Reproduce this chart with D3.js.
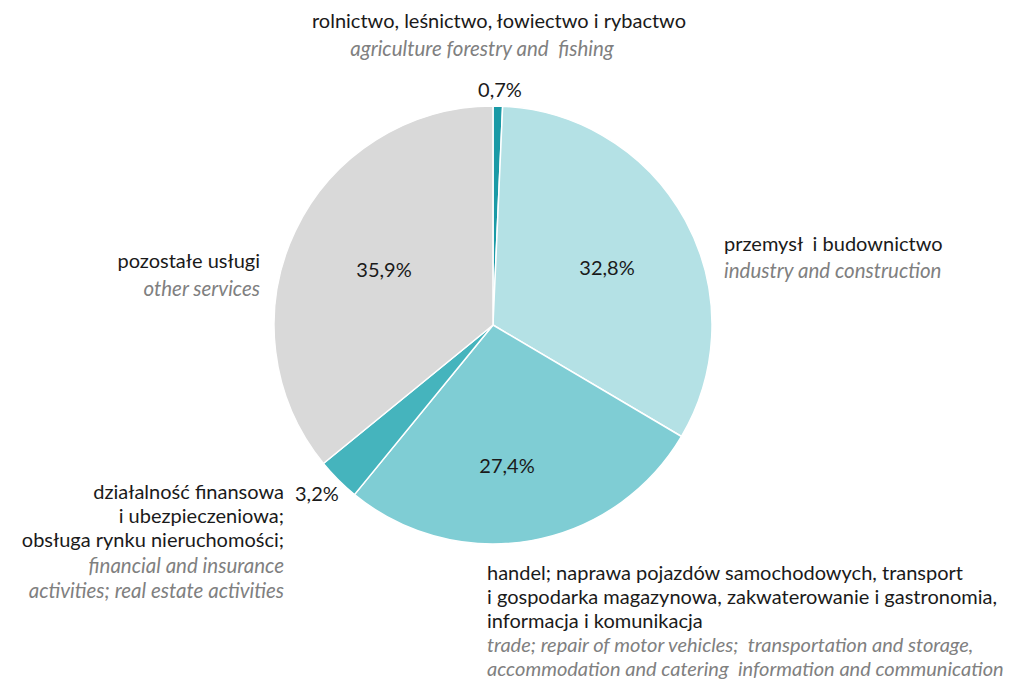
<!DOCTYPE html>
<html>
<head>
<meta charset="utf-8">
<script src="https://cdn.jsdelivr.net/npm/d3@7"></script>
<style>
  html, body { margin: 0; padding: 0; background: #ffffff; }
  svg text { font-family: Lato, "Open Sans", sans-serif; white-space: pre; }
</style>
</head>
<body>
<svg id="chart" width="1030" height="680"></svg>
<script>
// Structure of gross value added by sector (%)
const sectorKeys = ["agri", "industry", "trade", "finance", "other"];
const sectorValues = [0.7, 32.8, 27.4, 3.2, 35.9];
const valueLabels = ["0,7%", "32,8%", "27,4%", "3,2%", "35,9%"];
const sectorColors = ["#1a9aa6", "#b4e1e5", "#7fcdd4", "#45b4bd", "#d9d9d9"];

const namesPl = [
  ["rolnictwo, leśnictwo, łowiectwo i rybactwo"],
  ["przemysł  i budownictwo"],
  ["handel; naprawa pojazdów samochodowych, transport",
   "i gospodarka magazynowa, zakwaterowanie i gastronomia,",
   "informacja i komunikacja"],
  ["działalność finansowa", "i ubezpieczeniowa;", "obsługa rynku nieruchomości;"],
  ["pozostałe usługi"]
];
const namesEn = [
  ["agriculture forestry and  fishing"],
  ["industry and construction"],
  ["trade; repair of motor vehicles;  transportation and storage,",
   "accommodation and catering  information and communication"],
  ["financial and insurance", "activities; real estate activities"],
  ["other services"]
];

const svg = d3.select("#chart");
const cx = 493, cy = 325, radius = 219;
const fontPl = 20;

const pie = d3.pie().sort(null).value(d => d.value);
const data = sectorKeys.map((k, i) => ({ key: k, value: sectorValues[i], i }));
const arcs = pie(data);
const arc = d3.arc().innerRadius(0).outerRadius(radius);
const color = d3.scaleOrdinal().domain(sectorKeys).range(sectorColors);

const g = svg.append("g").attr("transform", `translate(${cx},${cy})`);
g.selectAll("path.slice")
  .data(arcs)
  .join("path")
  .attr("class", "slice")
  .attr("d", arc)
  .attr("fill", d => color(d.data.key))
  .attr("stroke", "#ffffff")
  .attr("stroke-width", 1.5)
  .attr("stroke-linejoin", "round");

// value labels: inside for large slices, outside for small ones
const labelPos = [
  { x: 500, y: 97, anchor: "middle" },
  { x: 607, y: 275, anchor: "middle" },
  { x: 507, y: 473, anchor: "middle" },
  { x: 295, y: 501, anchor: "start" },
  { x: 384, y: 277, anchor: "middle" }
];
svg.append("g").selectAll("text")
  .data(arcs)
  .join("text")
  .attr("x", d => labelPos[d.data.i].x)
  .attr("y", d => labelPos[d.data.i].y)
  .attr("text-anchor", d => labelPos[d.data.i].anchor)
  .attr("font-size", fontPl)
  .attr("fill", "#1a1a1a")
  .text(d => valueLabels[d.data.i]);

// category labels: Polish (regular) then English (italic, grey)
const catPos = [
  { x: 499, y: 28, ex: 482, ey: 56, lh: 25, fs: 20.5, anchor: "middle" },
  { x: 724, y: 251, ex: 724, ey: 278, lh: 25, fs: 20.5, anchor: "start" },
  { x: 487, y: 579.5, ex: 487, ey: 651.5, lh: 24, fs: 20, anchor: "start" },
  { x: 284, y: 499, ex: 284, ey: 573, lh: 25, fs: 20.5, anchor: "end" },
  { x: 260, y: 268, ex: 260, ey: 296, lh: 25, fs: 20.5, anchor: "end" }
];
const lineH = 24;
const cats = svg.append("g");
sectorKeys.forEach((k, i) => {
  const p = catPos[i];
  namesPl[i].forEach((t, j) => {
    cats.append("text")
      .attr("x", p.x).attr("y", p.y + j * lineH)
      .attr("text-anchor", p.anchor)
      .attr("font-size", fontPl)
      .attr("fill", "#1a1a1a")
      .text(t);
  });
  namesEn[i].forEach((t, j) => {
    cats.append("text")
      .attr("x", p.ex).attr("y", p.ey + j * p.lh)
      .attr("text-anchor", p.anchor)
      .attr("font-size", p.fs)
      .attr("font-style", "italic")
      .attr("fill", "#808080")
      .text(t);
  });
});
</script>
</body>
</html>
